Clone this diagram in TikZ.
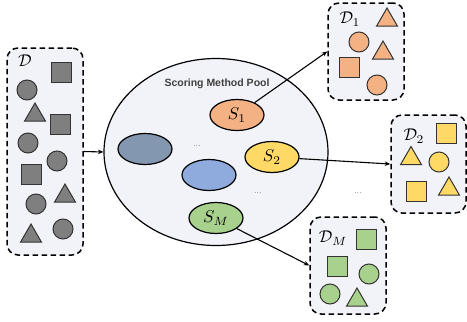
\documentclass[tikz,border=0pt]{standalone}
\usepackage{fontspec}
\newfontfamily\poolfont{Liberation Sans}
\usetikzlibrary{shapes.geometric,arrows.meta}
\definecolor{boxfill}{HTML}{F2F3F8}
\definecolor{gshape}{HTML}{7F7F7F}
\definecolor{oshape}{HTML}{F4B183}
\definecolor{yshape}{HTML}{FFD966}
\definecolor{grshape}{HTML}{A9D18E}
\definecolor{bshape}{HTML}{8FAADC}
\definecolor{slate}{HTML}{8497B0}
\definecolor{edge}{HTML}{333333}
\begin{document}
\begin{tikzpicture}[x=1pt,y=-1pt,
  dbox/.style={draw, line width=1.5pt, dash pattern=on 5.5pt off 3.5pt, fill=boxfill, rounded corners=11pt, inner sep=0pt},
  sq/.style={draw=edge, line width=1pt, rectangle, minimum size=20pt, inner sep=0pt},
  ci/.style={draw=edge, line width=1pt, circle, minimum size=20pt, inner sep=0pt},
  tri/.style={draw=edge, line width=1pt, regular polygon, regular polygon sides=3, minimum size=24pt, inner sep=0pt},
  sm/.style={draw, line width=1.2pt, ellipse, minimum width=54pt, minimum height=31pt, inner sep=0pt},
  smtext/.style={inner sep=0pt, scale=1.7},
  arr/.style={line width=1.1pt, -{Stealth[length=5.5pt,width=4.5pt]}},
  dots/.style={text=black!70, font=\fontsize{9}{9}\selectfont, inner sep=0pt},
  lab/.style={inner sep=0pt, scale=1.7}
]
\useasboundingbox (0,0) rectangle (467,322);

% big pool
\node[draw, line width=1.2pt, ellipse, fill=boxfill, minimum width=224pt, minimum height=187pt, inner sep=0pt] (pool) at (216,152) {};
\node[inner sep=0pt, text=black!75, font=\poolfont\bfseries\fontsize{10.5}{11}\selectfont] (pooltitle) at (217,84) {Scoring Method Pool};

\node[sm, fill=oshape] (S1) at (237,115) {};
\node[smtext] (S1t) at (S1) {$S_1$};
\node[sm, fill=slate] (Sa) at (145,149) {};
\node[dots] (dotsa) at (197,146) {...};
\node[sm, fill=yshape] (S2) at (272,157) {};
\node[smtext] (S2t) at (S2) {$S_2$};
\node[sm, fill=bshape] (Sb) at (209,175) {};
\node[dots] (dotsb) at (258,193) {...};
\node[sm, fill=grshape] (SM) at (216,218) {};
\node[smtext] (SMt) at (SM) {$S_M$};

% D box
\node[dbox, minimum width=76pt, minimum height=207pt] (D) at (45,151.5) {};
\node[lab] (Dl) at (25,61) {$\mathcal{D}$};
\node[sq, fill=gshape] (d1) at (61,72) {};
\node[ci, fill=gshape] (d2) at (27,90) {};
\node[tri, fill=gshape] (d3) at (35,115) {};
\node[sq, fill=gshape] (d4) at (60,124) {};
\node[ci, fill=gshape] (d5) at (28,143) {};
\node[ci, fill=gshape] (d6) at (57,161) {};
\node[sq, fill=gshape] (d7) at (31,174) {};
\node[tri, fill=gshape] (d8) at (65,196) {};
\node[ci, fill=gshape] (d9) at (36,204) {};
\node[tri, fill=gshape] (d10) at (31,236) {};
\node[ci, fill=gshape] (d11) at (63,229) {};

% D1 box
\node[dbox, minimum width=76pt, minimum height=97pt] (D1) at (366,51.5) {};
\node[lab] (D1l) at (350,19) {$\mathcal{D}_1$};
\node[tri, fill=oshape] (e1) at (387,20) {};
\node[ci, fill=oshape] (e2) at (359,42) {};
\node[tri, fill=oshape] (e3) at (383,53) {};
\node[sq, fill=oshape] (e4) at (349,67) {};
\node[ci, fill=oshape] (e5) at (377,85) {};

% D2 box
\node[dbox, minimum width=75pt, minimum height=98pt] (D2) at (428.5,164) {};
\node[lab] (D2l) at (414,136) {$\mathcal{D}_2$};
\node[sq, fill=yshape] (f1) at (446,133) {};
\node[tri, fill=yshape] (f2) at (411,158.5) {};
\node[ci, fill=yshape] (f3) at (439,162) {};
\node[sq, fill=yshape] (f4) at (416,191) {};
\node[tri, fill=yshape] (f5) at (449,189) {};
\node[dots] (dotsc) at (358,193) {...};

% DM box
\node[dbox, minimum width=76pt, minimum height=97pt] (DM) at (348,265.5) {};
\node[lab] (DMl) at (333,238) {$\mathcal{D}_M$};
\node[sq, fill=grshape] (g1) at (366,239) {};
\node[sq, fill=grshape] (g2) at (337,266) {};
\node[ci, fill=grshape] (g3) at (369,274) {};
\node[ci, fill=grshape] (g4) at (330,294) {};
\node[tri, fill=grshape] (g5) at (357,300) {};

% arrows
\draw[arr] (D.east) -- (pool.west);
\draw[arr] (S1) -- (D1.west);
\draw[arr] (S2) -- (D2.west);
\draw[arr] (SM) -- (DM.west);
\end{tikzpicture}
\end{document}
